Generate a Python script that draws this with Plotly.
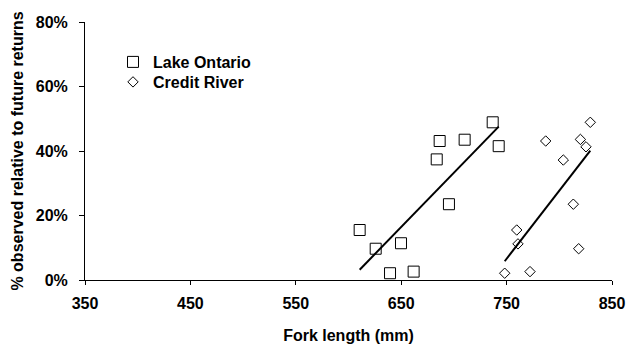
import numpy as np
import plotly.graph_objects as go

# Fork length (mm) and % observed relative to future returns
lake_ontario_length = [610.6, 625.8, 639.4, 649.8, 661.8, 683.7, 686.5, 695.3, 710.2, 736.8, 742.5]
lake_ontario_pct = [15.5, 9.7, 2.1, 11.4, 2.6, 37.4, 43.1, 23.5, 43.5, 48.9, 41.5]

credit_river_length = [748.2, 772.2, 759.6, 760.8, 818.4, 813.3, 803.8, 787.1, 820.0, 825.3, 829.4]
credit_river_pct = [2.1, 2.6, 15.5, 11.2, 9.7, 23.5, 37.2, 43.1, 43.6, 41.3, 48.9]

x_ticks = [350, 450, 550, 650, 750, 850]
y_ticks = [0, 20, 40, 60, 80]

FONT = "Arial, 'Liberation Sans', sans-serif"
BOLD16 = dict(family=FONT, size=16, color="black", weight="bold")

# plot area in pixels
W, H = 643, 348
ML, MR, MT, MB = 85, 31, 22, 68
PW, PH = W - ML - MR, H - MT - MB


def trend(xs, ys):
    """Least-squares line spanning the range of xs."""
    slope, intercept = np.polyfit(xs, ys, 1)
    x_end = np.array([min(xs), max(xs)])
    return x_end, slope * x_end + intercept


fig = go.Figure()

fig.add_trace(go.Scatter(
    x=lake_ontario_length, y=lake_ontario_pct, mode="markers", name="Lake Ontario",
    legend="legend",
    marker=dict(symbol="square-open", size=11, color="black", line=dict(width=1, color="black")),
))
fig.add_trace(go.Scatter(
    x=credit_river_length, y=credit_river_pct, mode="markers", name="Credit River",
    legend="legend2",
    marker=dict(symbol="diamond-open", size=8, color="black", line=dict(width=1, color="black")),
))

for xs, ys in [(lake_ontario_length, lake_ontario_pct), (credit_river_length, credit_river_pct)]:
    tx, ty = trend(xs, ys)
    fig.add_trace(go.Scatter(
        x=tx, y=ty, mode="lines", showlegend=False, hoverinfo="skip",
        line=dict(color="black", width=2),
    ))


def legend_at(px_left, px_top):
    return dict(
        x=(px_left - ML) / PW, y=1 - (px_top - MT) / PH,
        xanchor="left", yanchor="top",
        bgcolor="rgba(0,0,0,0)", itemwidth=30, font=BOLD16,
    )


fig.update_layout(
    width=W, height=H,
    margin=dict(l=ML, r=MR, t=MT, b=MB, autoexpand=False),
    paper_bgcolor="white", plot_bgcolor="white",
    font=BOLD16,
    legend=legend_at(113, 45),
    legend2=legend_at(113, 65),
    xaxis=dict(
        range=[350, 850], tickvals=x_ticks, ticktext=[str(v) for v in x_ticks],
        showgrid=False, zeroline=False, showline=True, linecolor="black", linewidth=1,
        ticks="outside", ticklen=4, tickcolor="black", ticklabelstandoff=5,
        tickfont=BOLD16, automargin=False,
        title=dict(text="Fork length (mm)", standoff=18, font=BOLD16),
    ),
    yaxis=dict(
        range=[0, 80], tickvals=y_ticks, ticktext=[f"{v}%" for v in y_ticks],
        showgrid=False, zeroline=False, showline=True, linecolor="black", linewidth=1,
        ticks="outside", ticklen=5, tickcolor="black", ticklabelstandoff=8,
        tickfont=BOLD16, automargin=False,
        title=dict(text="% observed relative to future returns", standoff=8, font=BOLD16),
    ),
)

fig.write_html("out.html")
